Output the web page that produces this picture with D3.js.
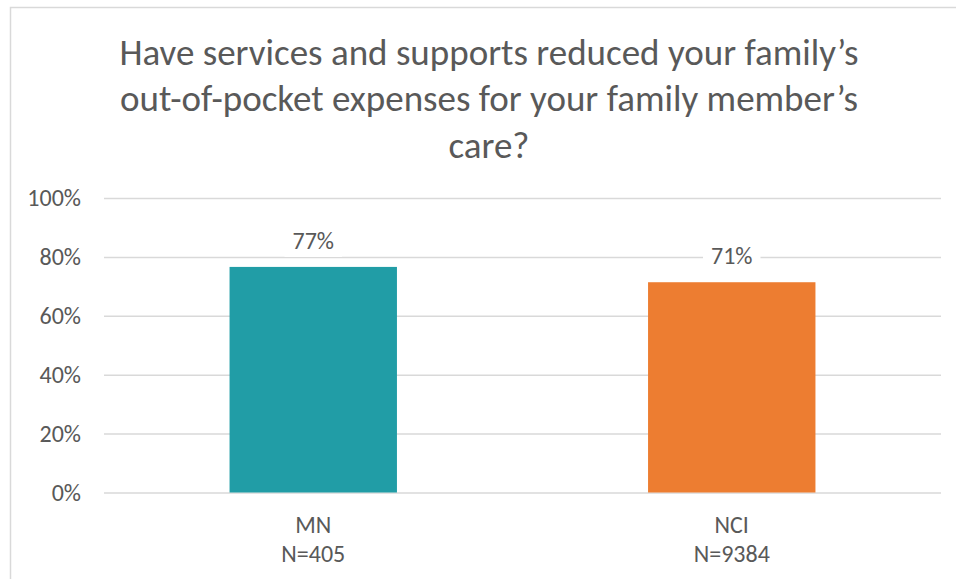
<!DOCTYPE html>
<html>
<head>
<meta charset="utf-8">
<script src="https://cdn.jsdelivr.net/npm/d3@7"></script>
<style>
  body { margin: 0; background: #fff; }
  svg { display: block; }
</style>
</head>
<body>
<div id="chart"></div>
<script>
// chart data
const titleLines = [
    "Have services and supports reduced your family\u2019s",
    "out-of-pocket expenses for your family member\u2019s",
    "care?"
];
const categories = ["MN", "NCI"];
const sampleSizes = ["N=405", "N=9384"];
const values = [0.766, 0.714];
const yTicks = [0, 0.2, 0.4, 0.6, 0.8, 1.0];
const barColors = ["#219da6", "#ed7d31"];

const width = 956, height = 579;
const margin = { top: 198, right: 15, bottom: 86.5, left: 104 };
const font = "Carlito, Lato, 'Open Sans', sans-serif";
const textColor = "#595959";
const gridColor = "#d9d9d9";

const rows = categories.map((c, i) => ({ cat: c, n: sampleSizes[i], value: values[i], color: barColors[i] }));

const svg = d3.select("#chart").append("svg")
    .attr("width", width)
    .attr("height", height)
    .style("font-family", font);

// chart frame (right and bottom edges are cut off in the picture)
svg.append("rect")
    .attr("x", 10.5)
    .attr("y", 7.5)
    .attr("width", width + 20)
    .attr("height", height + 20)
    .attr("fill", "#fff")
    .attr("stroke", gridColor)
    .attr("stroke-width", 1.5);

const x = d3.scaleBand()
    .domain(categories)
    .range([margin.left, width - margin.right])
    .paddingInner(0.6)
    .paddingOuter(0.3);

const y = d3.scaleLinear()
    .domain([0, 1])
    .range([height - margin.bottom, margin.top]);

// title
svg.append("text")
    .attr("text-anchor", "middle")
    .attr("fill", textColor)
    .style("font-size", "37px")
    .selectAll("tspan")
    .data(titleLines).enter()
    .append("tspan")
    .attr("x", 489)
    .attr("y", (d, i) => 65 + i * 46.3)
    .text(d => d);

// gridlines + y labels
const yAxis = d3.axisLeft(y)
    .tickValues(yTicks)
    .tickFormat(d3.format(".0%"))
    .tickSize(-(width - margin.left - margin.right))
    .tickPadding(23);

svg.append("g")
    .attr("transform", `translate(${margin.left},0)`)
    .call(yAxis)
    .call(g => g.select(".domain").remove())
    .call(g => g.selectAll(".tick line").attr("stroke", gridColor).attr("stroke-width", 1.5))
    .call(g => g.selectAll(".tick text")
        .attr("fill", textColor)
        .style("font-family", font)
        .style("font-size", "24px"));

// bars
svg.append("g")
    .selectAll("rect")
    .data(rows).enter()
    .append("rect")
    .attr("x", d => x(d.cat))
    .attr("y", d => y(d.value))
    .attr("width", x.bandwidth())
    .attr("height", d => y(0) - y(d.value))
    .attr("fill", d => d.color);

// value labels with a white box behind them
const fmt = d3.format(".0%");
const lab = svg.append("g")
    .selectAll("g")
    .data(rows).enter()
    .append("g")
    .attr("transform", d => `translate(${x(d.cat) + x.bandwidth() / 2},${y(d.value) - 18})`);

lab.append("text")
    .attr("text-anchor", "middle")
    .attr("fill", textColor)
    .style("font-size", "24px")
    .text(d => fmt(d.value));

lab.insert("rect", "text")
    .each(function () {
        const bb = this.parentNode.querySelector("text").getBBox();
        d3.select(this)
            .attr("x", bb.x - 8)
            .attr("y", bb.y - 2)
            .attr("width", bb.width + 16)
            .attr("height", bb.height + 4)
            .attr("fill", "#fff");
    });

// category labels, two lines each
const cat = svg.append("g")
    .selectAll("text")
    .data(rows).enter()
    .append("text")
    .attr("text-anchor", "middle")
    .attr("fill", textColor)
    .style("font-size", "24px");

cat.append("tspan")
    .attr("x", d => x(d.cat) + x.bandwidth() / 2)
    .attr("y", y(0) + 40)
    .text(d => d.cat);

cat.append("tspan")
    .attr("x", d => x(d.cat) + x.bandwidth() / 2)
    .attr("y", y(0) + 69.5)
    .text(d => d.n);
</script>
</body>
</html>
